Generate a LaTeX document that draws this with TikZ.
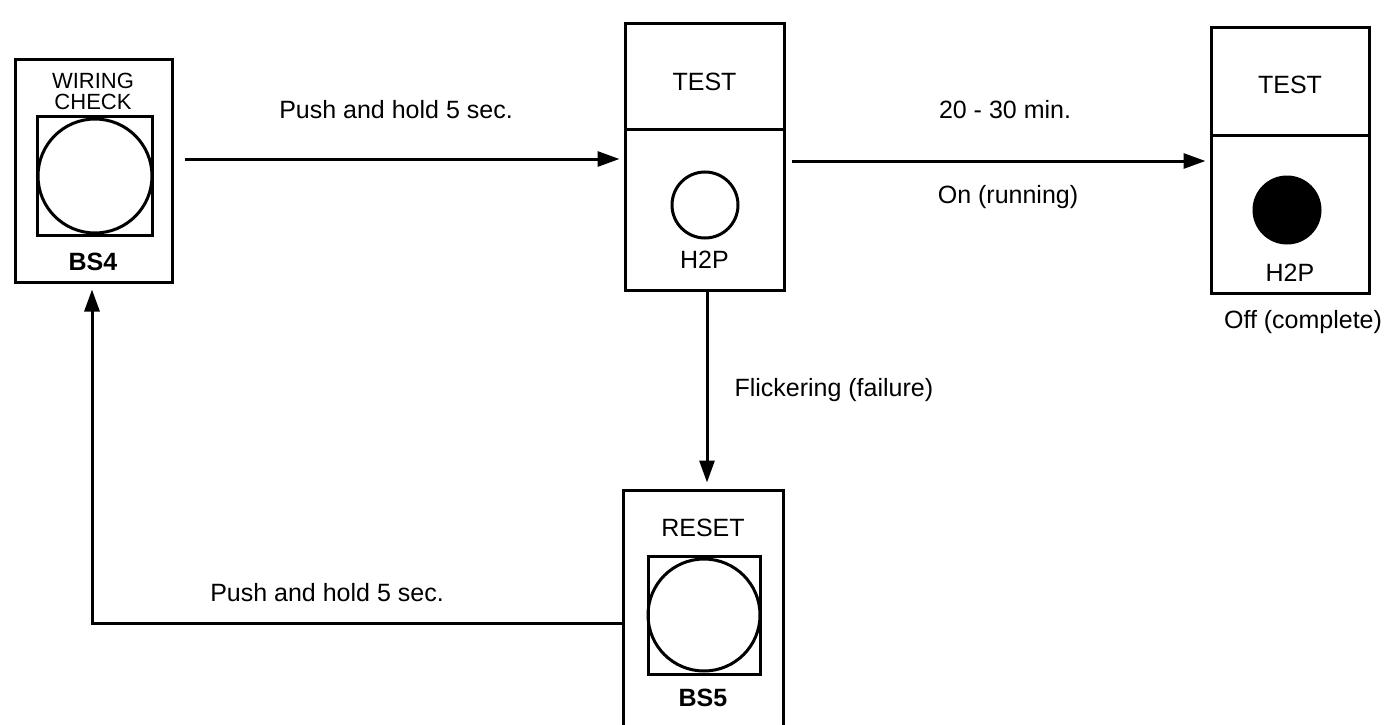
\documentclass[tikz,border=0pt]{standalone}
\usepackage{fontspec}
\setmainfont{Liberation Sans}
\usetikzlibrary{arrows.meta}
\begin{document}
\begin{tikzpicture}[x=1pt,y=-1pt, line width=3pt,
  panel/.style={draw, line width=3pt, inner sep=0pt},
  lbl/.style={font=\fontsize{25}{28}\selectfont, inner sep=0pt},
  boldlbl/.style={font=\fontsize{25}{28}\selectfont\bfseries, inner sep=0pt},
  arr/.style={-{Triangle[length=22pt,width=15pt]}, line width=3pt}]
\useasboundingbox (0,0) rectangle (1390,725);
\clip (0,0) rectangle (1390,725);

% BS4 panel
\node[panel, minimum width=157pt, minimum height=222pt] (bs4) at (93.5,171) {};
\node[panel, minimum width=115pt, minimum height=119pt] (bs4sq) at (95,175.5) {};
\node[draw, circle, line width=3pt, minimum size=114pt, inner sep=0pt] (bs4c) at (95,176) {};
\node[lbl, align=center, font=\fontsize{22}{21}\selectfont] (bs4t) at (93,91) {WIRING\\CHECK};
\node[boldlbl] (bs4n) at (93,262) {BS4};

% TEST panel 1
\node[panel, minimum width=159pt, minimum height=266pt] (test1) at (704.5,157) {};
\draw (test1.west |- 0,129) -- (test1.east |- 0,129);
\node[lbl] (test1t) at (704.5,82) {TEST};
\node[draw, circle, line width=3pt, minimum size=66pt, inner sep=0pt] (test1c) at (705,205) {};
\node[lbl] (test1n) at (704.5,260) {H2P};

% TEST panel 2
\node[panel, minimum width=158pt, minimum height=265pt] (test2) at (1290,160.5) {};
\draw (test2.west |- 0,135) -- (test2.east |- 0,135);
\node[lbl] (test2t) at (1290,85) {TEST};
\node[fill, circle, minimum size=69pt, inner sep=0pt] (test2c) at (1287,210) {};
\node[lbl] (test2n) at (1290,273) {H2P};
\node[lbl] (off) at (1303,322) {Off (complete)};

% RESET panel
\node[panel, minimum width=160pt, minimum height=240pt] (reset) at (703,610) {};
\node[panel, minimum width=112pt, minimum height=118pt] (resetsq) at (704,615) {};
\node[draw, circle, line width=3pt, minimum size=112pt, inner sep=0pt] (resetc) at (704,615) {};
\node[lbl] (resett) at (703,528) {RESET};
\node[boldlbl] (resetn) at (703,698) {BS5};

% connectors
\draw[arr] ([xshift=11pt,yshift=12pt]bs4.east) -- ([xshift=-4pt,yshift=-2pt]test1.west);
\node[lbl] (l1) at (396,110) {Push and hold 5 sec.};

\draw[arr] ([xshift=6pt,yshift=-4pt]test1.east) -- ([xshift=-4pt,yshift=-0.5pt]test2.west);
\node[lbl] (l2) at (1005,110) {20 - 30 min.};
\node[lbl] (l3) at (1008,197) {On (running)};

\draw[arr] ([xshift=2.5pt]test1.south) -- ([xshift=4pt,yshift=6pt]reset.north);
\node[lbl, anchor=west] (l4) at (733,390) {Flickering (failure)};

\draw[arr] ([yshift=-13pt]reset.west) -| ([xshift=-1.5pt,yshift=-6pt]bs4.south);
\node[lbl] (l5) at (327,593) {Push and hold 5 sec.};
\end{tikzpicture}
\end{document}
